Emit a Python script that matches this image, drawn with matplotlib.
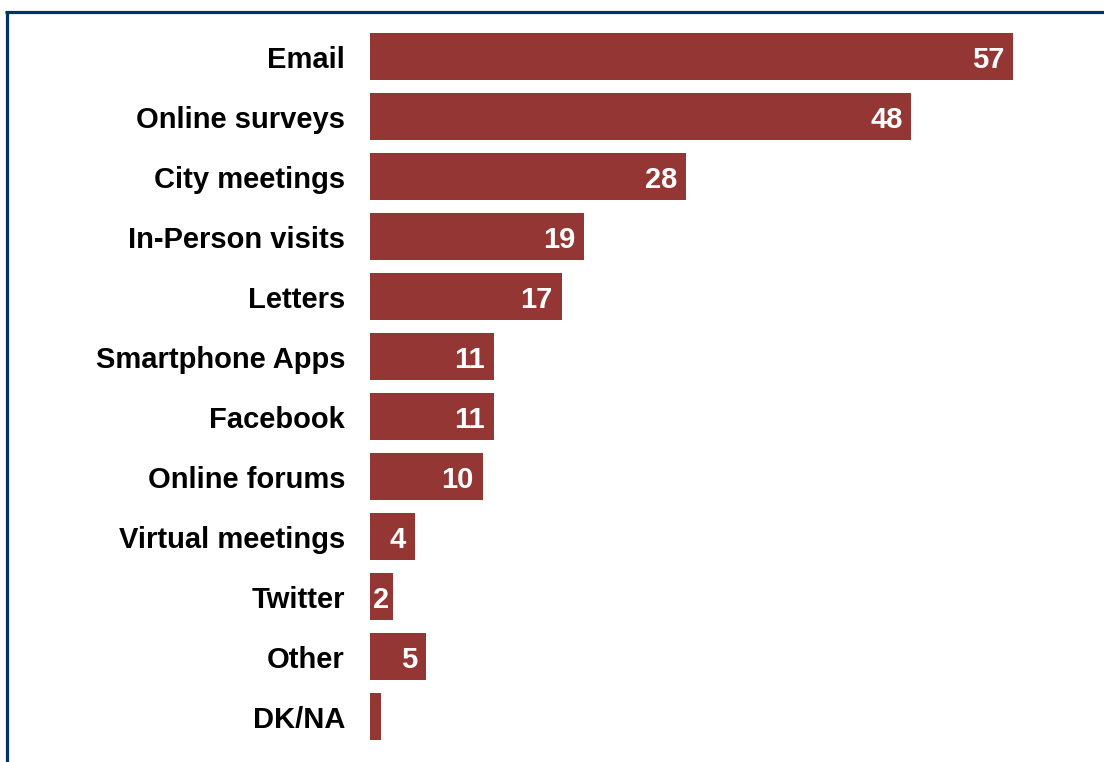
import matplotlib
matplotlib.use("Agg")
import matplotlib.pyplot as plt
from matplotlib.lines import Line2D

categories = ["Email", "Online surveys", "City meetings", "In-Person visits", "Letters",
              "Smartphone Apps", "Facebook", "Online forums", "Virtual meetings", "Twitter",
              "Other", "DK/NA"]
values = [57, 48, 28, 19, 17, 11, 11, 10, 4, 2, 5, 1]
labels = ["57", "48", "28", "19", "17", "11", "11", "10", "4", "2", "5", ""]

W, H = 1104, 762
fig = plt.figure(figsize=(W / 100, H / 100), dpi=100)
plt.rcParams['font.family'] = ['Liberation Sans', 'DejaVu Sans']

ax_left, ax_top, ax_bottom = 370, 26.5, 746.5
px_per_unit = 643 / 57
ax = fig.add_axes([ax_left / W, (H - ax_bottom) / H, (W - ax_left) / W, (ax_bottom - ax_top) / H])
bar_color = "#943634"
ypos = list(range(len(categories)))
ax.barh(ypos, values, height=0.78, color=bar_color)
ax.set_xlim(0, (W - ax_left) / px_per_unit)
ax.set_ylim(len(categories) - 0.5, -0.5)
ax.set_yticks(ypos)
ax.set_yticklabels(categories, fontsize=21, fontweight="bold", color="black", va="center_baseline")
ax.tick_params(axis="y", length=0, pad=18)
ax.set_xticks([])
for s in ax.spines.values():
    s.set_visible(False)

for y, v, lab in zip(ypos, values, labels):
    if not lab:
        continue
    if v * px_per_unit < 30:
        ax.annotate(lab, xy=(v / 2, y), ha="center", va="center_baseline", color="white",
                    fontsize=21, fontweight="bold")
    else:
        ax.annotate(lab, xy=(v, y), xytext=(-6.5, 0), textcoords="offset points",
                    ha="right", va="center_baseline", color="white", fontsize=21, fontweight="bold")

border = "#003366"
fig.add_artist(Line2D([5 / W, 1], [1 - 12 / H, 1 - 12 / H], transform=fig.transFigure,
                      color=border, lw=2.3, solid_capstyle="butt"))
fig.add_artist(Line2D([6.5 / W, 6.5 / W], [1 - 11 / H, 0], transform=fig.transFigure,
                      color=border, lw=2.3, solid_capstyle="butt"))

fig.savefig("out.png", dpi=100)
